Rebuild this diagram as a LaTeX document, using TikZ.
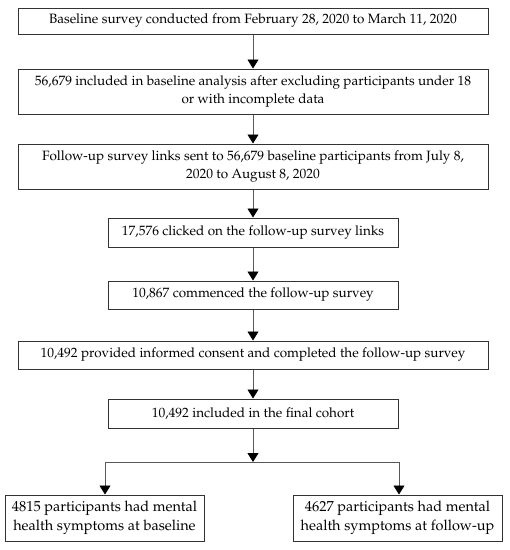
\documentclass[tikz,border=0pt]{standalone}
\usepackage[T1]{fontenc}
\usepackage{mathpazo}
\usetikzlibrary{arrows.meta}
\begin{document}
\begin{tikzpicture}[x=1pt,y=1pt,
  box/.style={draw=black!80, line width=1pt, fill=white, align=center, inner sep=0pt,
    font=\fontsize{13.5}{18.5}\selectfont},
  wide/.style={box, minimum width=470pt},
  mid/.style={box, minimum width=290pt},
  lowbox/.style={box, minimum height=46pt, font=\fontsize{14.5}{18.5}\selectfont},
  flow/.style={draw=black!65, line width=0.8pt, -{Triangle[width=11pt,length=9pt,color=black]}},
  plain/.style={draw=black!65, line width=0.8pt}]
\useasboundingbox (0,0) rectangle (510,-550);
\fill[white] (0,0) rectangle (510,-550);
\node[wide, minimum height=26pt] (b1) at (253,-21) {Baseline survey conducted from February 28, 2020 to March 11, 2020};
\node[wide, minimum height=45pt] (b2) at (253,-91.5) {56,679 included in baseline analysis after excluding participants under 18\\or with incomplete data};
\node[wide, minimum height=45pt] (b3) at (253,-166.5) {Follow-up survey links sent to 56,679 baseline participants from July 8,\\2020 to August 8, 2020};
\node[mid, minimum height=29pt] (b4) at (253,-232.5) {17,576 clicked on the follow-up survey links};
\node[mid, minimum height=28pt] (b5) at (253,-295) {10,867 commenced the follow-up survey};
\node[wide, minimum height=28pt] (b6) at (253,-355) {10,492 provided informed consent and completed the follow-up survey};
\node[mid, minimum height=29pt] (b7) at (253,-413.5) {10,492 included in the final cohort};
\node[lowbox, minimum width=199pt] (b8) at (104.5,-518) {4815 participants had mental\\health symptoms at baseline};
\node[lowbox, minimum width=209pt] (b9) at (397.5,-518) {4627 participants had mental\\health symptoms at follow-up};
\coordinate (split) at (253,-462);
\coordinate (sl) at (105,-462);
\coordinate (sr) at (399,-462);
\draw[flow] (b1) -- (b2);
\draw[flow] (b2) -- (b3);
\draw[flow] (b3) -- (b4);
\draw[flow] (b4) -- (b5);
\draw[flow] (b5) -- (b6);
\draw[flow] (b6) -- (b7);
\draw[flow] (b7) -- (split);
\draw[plain] (sl) -- (sr);
\draw[flow] (sl) -- (sl |- b8.north);
\draw[flow] (sr) -- (sr |- b9.north);
\end{tikzpicture}
\end{document}
